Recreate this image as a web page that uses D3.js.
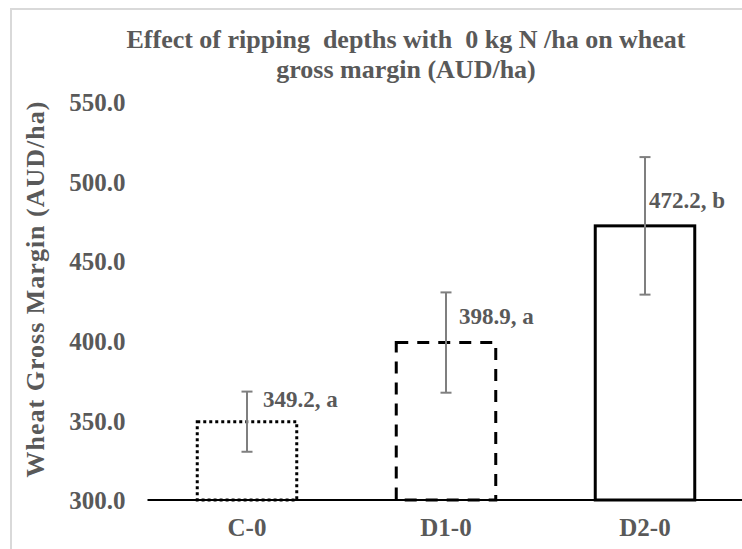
<!DOCTYPE html>
<html>
<head>
<meta charset="utf-8">
<script src="https://cdn.jsdelivr.net/npm/d3@7"></script>
<style>
  html, body { margin: 0; padding: 0; background: #fff; }
  svg { display: block; }
  text { font-family: "Liberation Serif", "Times New Roman", serif; font-weight: bold; fill: #595959; }
</style>
</head>
<body>
<svg id="chart" width="742" height="549"></svg>
<script>
// Wheat gross margin by ripping depth (0 kg N/ha)
const categories = ["C-0", "D1-0", "D2-0"];
const values = [349.2, 398.9, 472.2];
const errors = [18.9, 31.5, 43.2];
const letters = ["a", "a", "b"];
const yTicks = [300, 350, 400, 450, 500, 550];
const dashStyles = ["3,3", "12,9", null];

const svg = d3.select("#chart");
const W = 742, H = 549;

// chart frame
svg.append("rect")
  .attr("x", 11).attr("y", 9)
  .attr("width", 820).attr("height", 600)
  .attr("fill", "none").attr("stroke", "#d9d9d9").attr("stroke-width", 2);

const x = d3.scaleBand()
  .domain(categories)
  .range([147.5, 744.5])
  .paddingInner(0.5)
  .paddingOuter(0.25);

const y = d3.scaleLinear()
  .domain([300, 550])
  .range([500, 102]);

// title
const title = svg.append("text")
  .attr("text-anchor", "middle")
  .style("font-size", "26px")
  .style("white-space", "pre");
title.append("tspan").attr("x", 406).attr("y", 48)
  .text("Effect of ripping  depths with  0 kg N /ha on wheat");
title.append("tspan").attr("x", 406).attr("y", 78)
  .text("gross margin (AUD/ha)");

// y axis labels
const yAxis = d3.axisLeft(y)
  .tickValues(yTicks)
  .tickFormat(d3.format(".1f"))
  .tickSize(0)
  .tickPadding(22);
const gy = svg.append("g")
  .attr("transform", "translate(147.5,0)")
  .call(yAxis);
gy.select(".domain").remove();
gy.selectAll("text")
  .attr("fill", "#595959")
  .style("font-family", "'Liberation Serif', serif")
  .style("font-weight", "bold")
  .style("font-size", "25px")
  .attr("dy", "0.35em");

// y axis title
svg.append("text")
  .attr("transform", "translate(44,289) rotate(-90)")
  .attr("text-anchor", "middle")
  .style("font-size", "26px")
  .style("letter-spacing", "1px")
  .text("Wheat Gross Margin (AUD/ha)");

// bars
svg.append("g").selectAll("rect")
  .data(values)
  .join("rect")
  .attr("x", (d, i) => x(categories[i]))
  .attr("y", d => y(d))
  .attr("width", x.bandwidth())
  .attr("height", d => y(300) - y(d))
  .attr("fill", "none")
  .attr("stroke", "#000")
  .attr("stroke-width", 3)
  .attr("stroke-dasharray", (d, i) => dashStyles[i]);

// baseline
svg.append("line")
  .attr("x1", 147.5).attr("x2", W)
  .attr("y1", y(300)).attr("y2", y(300))
  .attr("stroke", "#000").attr("stroke-width", 2);

// error bars
const eb = svg.append("g").attr("stroke", "#7f7f7f").attr("stroke-width", 2);
values.forEach((v, i) => {
  const cx = x(categories[i]) + x.bandwidth() / 2;
  eb.append("line").attr("x1", cx).attr("x2", cx)
    .attr("y1", y(v + errors[i])).attr("y2", y(v - errors[i]));
  [v + errors[i], v - errors[i]].forEach(e => {
    eb.append("line").attr("x1", cx - 5.5).attr("x2", cx + 5.5)
      .attr("y1", y(e)).attr("y2", y(e));
  });
});

// value labels
const labelDx = [16, 13, 4];
const labelDy = [-15, -19, -18];
svg.append("g").selectAll("text")
  .data(values)
  .join("text")
  .attr("x", (d, i) => x(categories[i]) + x.bandwidth() / 2 + labelDx[i])
  .attr("y", (d, i) => y(d) + labelDy[i])
  .style("font-size", "23px")
  .text((d, i) => d.toFixed(1) + ", " + letters[i]);

// category labels
svg.append("g").selectAll("text")
  .data(categories)
  .join("text")
  .attr("x", d => x(d) + x.bandwidth() / 2)
  .attr("y", 536)
  .attr("text-anchor", "middle")
  .style("font-size", "25px")
  .text(d => d);
</script>
</body>
</html>
